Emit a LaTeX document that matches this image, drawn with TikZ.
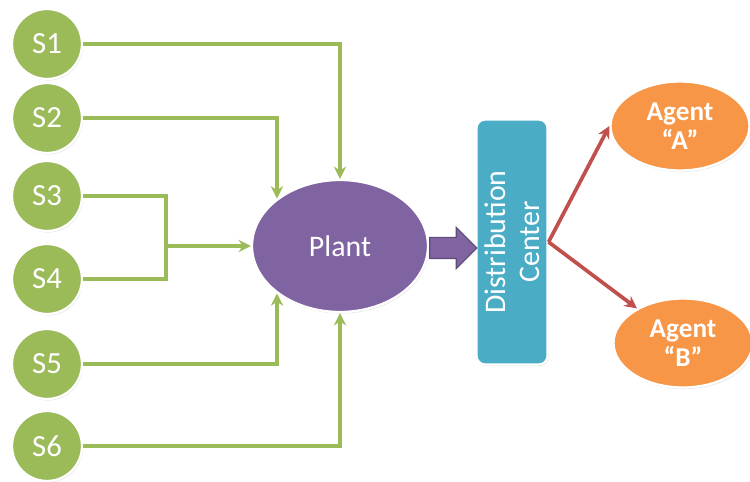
\documentclass[tikz,border=0pt]{standalone}
\usepackage{fontspec}
\setmainfont{Carlito}
\usepackage{xcolor}
\usetikzlibrary{shapes.geometric, shapes.arrows, arrows.meta, shadows}

\definecolor{leaf}{HTML}{9BBB59}
\definecolor{plum}{HTML}{8064A2}
\definecolor{plumdark}{HTML}{5E4A7C}
\definecolor{sky}{HTML}{4BACC6}
\definecolor{tangerine}{HTML}{F79646}
\definecolor{brick}{HTML}{C0504D}

\begin{document}
\begin{tikzpicture}[
    x=0.02cm, y=-0.02cm,
    shade/.style={drop shadow={opacity=0.2, shadow xshift=0.6pt, shadow yshift=-0.9pt}},
    supplier/.style={circle, fill=leaf, draw=white, line width=1.3pt, minimum size=1.4cm, inner sep=0pt, text=white, font=\fontsize{17.5}{20}\selectfont, shade},
    plant/.style={ellipse, fill=plum, draw=white, line width=1.3pt, minimum width=3.52cm, minimum height=2.64cm, inner sep=0pt, text=white, font=\fontsize{17}{20}\selectfont, shade},
    center/.style={rectangle, rounded corners=5pt, fill=sky, draw=white, line width=1.2pt, minimum width=4.9cm, minimum height=1.42cm, inner sep=0pt, align=center, text=white, font=\fontsize{17}{19.5}\selectfont, rotate=90, shade},
    agent/.style={ellipse, fill=tangerine, draw=white, line width=1.3pt, minimum width=2.78cm, minimum height=1.78cm, inner sep=0pt, align=center, text=white, font=\bfseries\fontsize{15.5}{16.5}\selectfont, shade},
    link/.style={draw=leaf, line width=2.1pt},
    tip/.style={-{Stealth[length=7pt, width=7pt]}},
    route/.style={draw=brick, line width=2.1pt, -{Stealth[length=7pt, width=7pt]}}
  ]

    \useasboundingbox (0,0) rectangle (750,482);

    % Suppliers
    \node[supplier] (s1) at (47,44) {S1};
    \node[supplier] (s2) at (47,118) {S2};
    \node[supplier] (s3) at (47,196) {S3};
    \node[supplier] (s4) at (47,279) {S4};
    \node[supplier] (s5) at (47,364) {S5};
    \node[supplier] (s6) at (47,446) {S6};

    % Plant and distribution
    \node[plant] (plant) at (340,246) {Plant};
    \node[center] (dc) at (512,242) {Distribution\\Center};
    \node[single arrow, fill=plum, draw=plumdark, line width=0.6pt, minimum height=0.94cm, minimum width=0.82cm, single arrow head extend=0.2cm, inner xsep=0pt, inner ysep=0.2cm] (push) at (448,248) {};

    % Agents
    \node[agent] (aga) at (680,126) {Agent\\``A''};
    \node[agent] (agb) at (683,343) {Agent\\``B''};

    % Supply lines
    \coordinate (jn) at (166,246);
    \draw[link, tip] (s1) -| (plant);
    \draw[link, tip] (s2) -| (plant.north west);
    \draw[link] (s3) -| (jn);
    \draw[link] (s4) -| (jn);
    \draw[link, tip] (jn) -- (plant);
    \draw[link, tip] (s5) -| (plant.south west);
    \draw[link, tip] (s6) -| (plant);

    % Delivery
    \draw[route] (dc.south) -- (aga.west);
    \draw[route] (dc.south) -- (agb);

  \end{tikzpicture}
\end{document}
